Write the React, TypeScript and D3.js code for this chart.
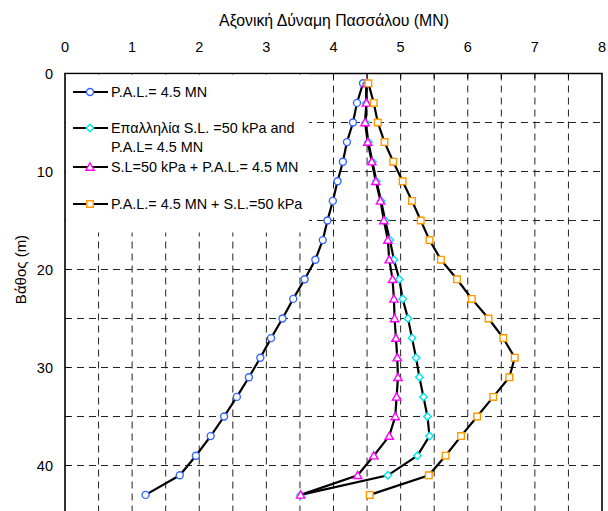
import React, { useEffect, useRef } from "react";
import * as d3 from "d3";

// depths (m) of the computed points, every 2 m
const depths = [1, 3, 5, 7, 9, 11, 13, 15, 17, 19, 21, 23, 25, 27, 29, 31, 33, 35, 37, 39, 41, 43];

// axial force (MN) per series
const palOnly = [4.44, 4.35, 4.29, 4.2, 4.14, 4.06, 3.99, 3.91, 3.84, 3.73, 3.57, 3.4, 3.24, 3.07, 2.91, 2.74, 2.56, 2.37, 2.17, 1.95, 1.71, 1.2];
const superposition = [4.49, 4.49, 4.48, 4.52, 4.58, 4.64, 4.71, 4.77, 4.84, 4.9, 4.98, 5.03, 5.11, 5.17, 5.23, 5.28, 5.34, 5.4, 5.43, 5.25, 4.81, 3.51];
const slThenPal = [4.49, 4.49, 4.47, 4.51, 4.57, 4.63, 4.7, 4.75, 4.81, 4.83, 4.88, 4.9, 4.91, 4.93, 4.95, 4.96, 4.94, 4.92, 4.83, 4.6, 4.36, 3.51];
const palThenSl = [4.52, 4.6, 4.66, 4.76, 4.89, 5.03, 5.17, 5.3, 5.43, 5.6, 5.84, 6.06, 6.31, 6.53, 6.7, 6.62, 6.38, 6.14, 5.9, 5.67, 5.42, 4.54];

const seriesNames = [
  ["P.A.L.= 4.5 MN"],
  ["Επαλληλία S.L. =50 kPa and", "P.A.L= 4.5 MN"],
  ["S.L=50 kPa + P.A.L.= 4.5 MN"],
  ["P.A.L.= 4.5 MN + S.L.=50 kPa"],
];
const seriesValues = [palOnly, superposition, slThenPal, palThenSl];

const xTicks = [0, 1, 2, 3, 4, 5, 6, 7, 8];
const yTicks = [0, 10, 20, 30, 40];

const colors = ["#3366ff", "#00e5ee", "#ff00ff", "#ff9900"];
const FONT = "'Liberation Sans', Arial, sans-serif";

export default function App() {
  const svgRef = useRef<SVGSVGElement>(null);
  const width = 608;
  const height = 511;

  useEffect(() => {
    const svg = d3.select(svgRef.current);
    svg.selectAll("*").remove();

    const left = 65;
    const right = 602;
    const top = 73.5;

    const x = d3.scaleLinear().domain([0, 8]).range([left, right]);
    const y = d3.scaleLinear().domain([0, 45]).range([top, top + 45 * 9.8]);
    const bottom = y(45);

    svg.append("rect").attr("width", width).attr("height", height).attr("fill", "#fff");

    // grid
    const grid = svg.append("g").attr("stroke", "#222").attr("stroke-width", 1).attr("stroke-dasharray", "7,5");
    d3.range(0.5, 8, 0.5).forEach((v) => {
      grid.append("line").attr("x1", x(v)).attr("x2", x(v)).attr("y1", top).attr("y2", bottom);
    });
    d3.range(5, 45, 5).forEach((v) => {
      grid.append("line").attr("x1", left).attr("x2", right).attr("y1", y(v)).attr("y2", y(v));
    });

    // inward ticks
    const ticks = svg.append("g").attr("stroke", "#000").attr("stroke-width", 1);
    d3.range(0.5, 8, 0.5).forEach((v) => {
      ticks.append("line").attr("x1", x(v)).attr("x2", x(v)).attr("y1", top).attr("y2", top + 5);
    });
    d3.range(5, 45, 5).forEach((v) => {
      ticks.append("line").attr("x1", left).attr("x2", left + 5).attr("y1", y(v)).attr("y2", y(v));
    });

    // frame
    svg
      .append("path")
      .attr("d", `M${left},${bottom}V${top}H${right}V${bottom}`)
      .attr("fill", "none")
      .attr("stroke", "#000")
      .attr("stroke-width", 1.6);

    // tick labels
    svg
      .append("g")
      .selectAll("text")
      .data(xTicks)
      .enter()
      .append("text")
      .attr("x", (d) => x(d))
      .attr("y", 52)
      .attr("text-anchor", "middle")
      .style("font-family", FONT)
      .style("font-size", "14.5px")
      .text((d) => d);

    svg
      .append("g")
      .selectAll("text")
      .data(yTicks)
      .enter()
      .append("text")
      .attr("x", 53)
      .attr("y", (d) => y(d))
      .attr("dy", "0.35em")
      .attr("text-anchor", "end")
      .style("font-family", FONT)
      .style("font-size", "14.5px")
      .text((d) => d);

    // axis titles
    svg
      .append("text")
      .attr("x", 334)
      .attr("y", 26)
      .attr("text-anchor", "middle")
      .style("font-family", FONT)
      .style("font-size", "15.8px")
      .text("Αξονική Δύναμη Πασσάλου (MN)");

    svg
      .append("text")
      .attr("transform", `translate(26,${y(20)}) rotate(-90)`)
      .attr("text-anchor", "middle")
      .style("font-family", FONT)
      .style("font-size", "15px")
      .text("Βάθος (m)");

    const marker = (g, i, cx, cy) => {
      const c = colors[i];
      if (i === 0) {
        g.append("circle").attr("cx", cx).attr("cy", cy).attr("r", 3.5);
      } else if (i === 1) {
        g.append("path").attr("d", d3.symbol(d3.symbolSquare, 28)()).attr("transform", `translate(${cx},${cy}) rotate(45)`);
      } else if (i === 2) {
        g.append("path").attr("d", d3.symbol(d3.symbolTriangle, 30)()).attr("transform", `translate(${cx},${cy + 0.8})`);
      } else {
        g.append("path").attr("d", d3.symbol(d3.symbolSquare, 44)()).attr("transform", `translate(${cx},${cy})`);
      }
      g.selectAll("*").attr("fill", "#fff").attr("stroke", c).attr("stroke-width", 1.4);
    };

    const line = d3
      .line<number>()
      .x((d) => x(d))
      .y((_, i) => y(depths[i]));

    seriesValues.forEach((vals, i) => {
      svg
        .append("path")
        .attr("d", line(vals))
        .attr("fill", "none")
        .attr("stroke", "#000")
        .attr("stroke-width", 2.2);
      vals.forEach((v, j) => {
        marker(svg.append("g"), i, x(v), y(depths[j]));
      });
    });

    // legend
    const legend = svg.append("g");
    legend.append("rect").attr("x", left + 1).attr("y", top + 1).attr("width", 243).attr("height", 158).attr("fill", "#fff");
    const rows = [92, 128, 167, 204];
    seriesNames.forEach((lines, i) => {
      const cy = rows[i];
      legend.append("line").attr("x1", 73).attr("x2", 108).attr("y1", cy).attr("y2", cy).attr("stroke", "#000").attr("stroke-width", 2.2);
      marker(legend.append("g"), i, 90, cy);
      lines.forEach((t, k) => {
        legend
          .append("text")
          .attr("x", 111)
          .attr("y", cy + k * 19)
          .attr("dy", "0.36em")
          .style("font-family", FONT)
          .style("font-size", "14.4px")
          .text(t);
      });
    });
  }, []);

  return (
    <svg
      ref={svgRef}
      width={width}
      height={height}
      style={{ position: "absolute", left: 0, top: 0 }}
    ></svg>
  );
}
